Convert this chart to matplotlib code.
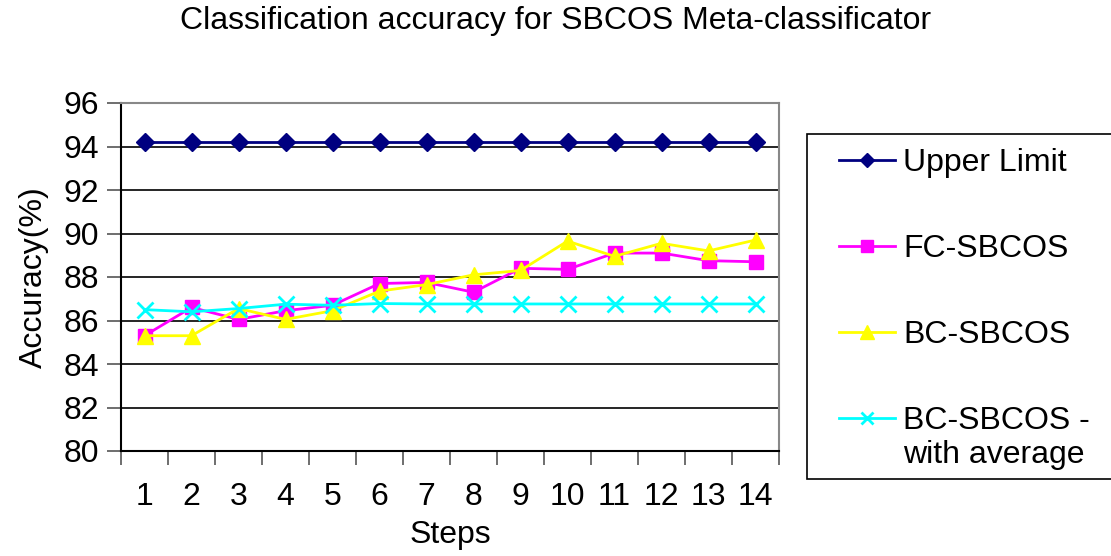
import matplotlib.pyplot as plt
from matplotlib.patches import Rectangle
from matplotlib.ticker import FixedLocator, NullFormatter

plt.rcParams["font.family"] = ["Liberation Sans", "DejaVu Sans"]

steps = list(range(1, 15))
upper_limit = [94.2] * 14
fc_sbcos = [85.3, 86.6, 86.05, 86.45, 86.7, 87.7, 87.75, 87.3, 88.4, 88.35, 89.1, 89.1, 88.75, 88.7]
bc_sbcos = [85.3, 85.3, 86.55, 86.05, 86.45, 87.35, 87.65, 88.1, 88.3, 89.65, 88.95, 89.55, 89.2, 89.7]
bc_avg = [86.5, 86.4, 86.55, 86.75, 86.7, 86.78, 86.76, 86.76, 86.76, 86.76, 86.76, 86.76, 86.76, 86.76]

W, H = 1111, 556
fig = plt.figure(figsize=(W / 100, H / 100), dpi=100)
ax = fig.add_axes([121 / W, 1 - 451 / H, (779 - 121) / W, (451 - 103) / H])

ax.plot(steps, upper_limit, color="#000080", lw=2, marker="D", ms=9, label="Upper Limit")
ax.plot(steps, fc_sbcos, color="#FF00FF", lw=2, marker="s", ms=10, label="FC-SBCOS")
ax.plot(steps, bc_sbcos, color="#FFFF00", lw=2, marker="^", ms=12, label="BC-SBCOS")
ax.plot(steps, bc_avg, color="#00FFFF", lw=2, marker="x", ms=11, mew=2, label="BC-SBCOS -")

ax.set_xlim(0.5, 14.5)
ax.set_ylim(80, 96)
ax.set_yticks(range(80, 97, 2))
ax.yaxis.grid(True, color="black", lw=1.2)
ax.set_axisbelow(True)

# Excel-like ticks between categories
ax.set_xticks(steps)
ax.tick_params(axis="x", which="major", length=0, pad=22)
ax.xaxis.set_minor_locator(FixedLocator([i + 0.5 for i in range(0, 15)]))
ax.xaxis.set_minor_formatter(NullFormatter())
ax.tick_params(axis="x", which="minor", length=10, width=1.2, color="#555555")
ax.tick_params(axis="y", length=10, width=1.2, color="#555555", pad=6)
ax.tick_params(labelsize=23)

for side in ["top", "right"]:
    ax.spines[side].set_color("#888888")
    ax.spines[side].set_linewidth(1.5)
for side in ["left", "bottom"]:
    ax.spines[side].set_color("black")
    ax.spines[side].set_linewidth(1.5)

ax.set_xlabel("Steps", fontsize=23, labelpad=6)
ax.set_ylabel("Accuracy(%)", fontsize=23, labelpad=10)
fig.suptitle("Classification accuracy for SBCOS Meta-classificator", fontsize=23, y=0.99)

# legend box (extends past the right edge like the original)
fig.patches.append(Rectangle((807 / W, 1 - 479 / H), 320 / W, (479 - 134) / H,
                             transform=fig.transFigure, facecolor="white",
                             edgecolor="black", lw=1.2, zorder=0))
leg = fig.legend(loc="upper left", bbox_to_anchor=(839 / W, 1 - 148 / H),
                 fontsize=23, frameon=False, handlelength=1.75, handletextpad=0.25,
                 labelspacing=1.75, borderpad=0, borderaxespad=0, markerscale=0.8)
fig.text(903 / W, 1 - 455 / H, "with average", fontsize=23, va="center", ha="left")

fig.savefig("out.png", dpi=100)
